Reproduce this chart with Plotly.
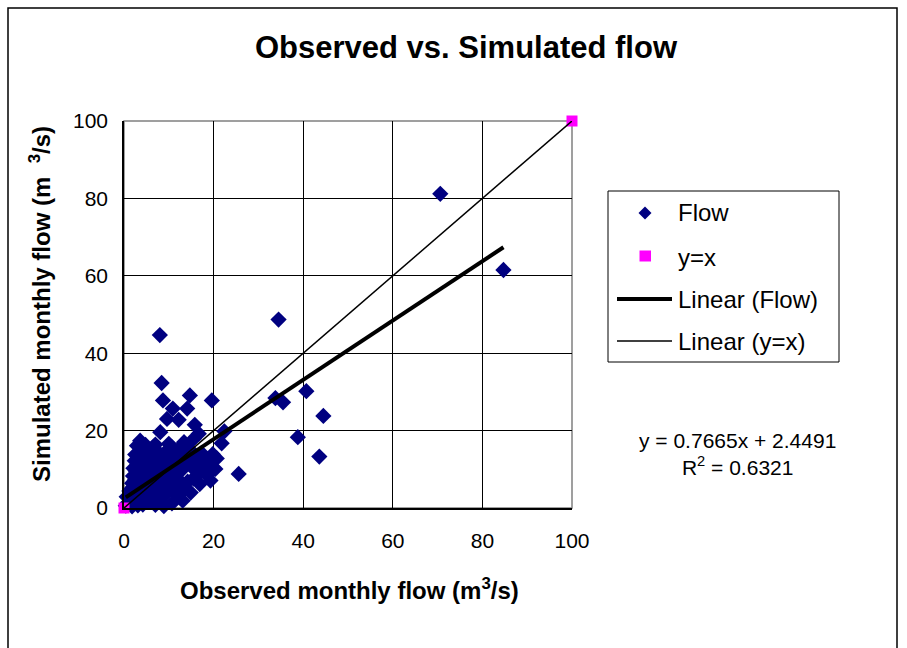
import plotly.graph_objects as go

# Observed vs. simulated monthly flows (m3/s)
observed = [
    84.7, 70.6, 34.5, 40.7, 44.5, 43.6, 38.8, 33.8, 35.5,
    8.0, 8.4, 8.7, 10.9, 14.7, 14.1, 19.6, 12.2, 9.6, 15.8, 8.1, 16.7, 15.6,
    3.6, 7.0, 10.0, 13.4, 22.4, 21.8, 20.7, 25.6,
    0.4, 0.6, 0.9, 1.2, 1.8, 2.0, 2.1, 2.4, 1.8, 1.9, 1.5,
    2.2, 2.4, 2.6, 2.5, 2.9, 3.1, 3.3, 3.5, 3.8, 3.7, 2.9, 3.9,
    4.2, 4.4, 4.6, 4.3, 4.9, 5.1, 5.3, 5.5, 5.7, 5.9, 4.8, 5.4,
    6.1, 6.3, 6.6, 6.8, 7.0, 7.2, 7.4, 7.6, 7.8, 6.4, 7.9,
    8.2, 8.4, 8.6, 8.8, 9.1, 9.3, 9.5, 9.7, 9.9, 8.9,
    10.2, 10.4, 10.7, 10.9, 11.2, 11.4, 11.6, 11.9, 10.6,
    12.1, 12.4, 12.6, 12.9, 13.1, 13.3, 13.6, 13.8, 12.8,
    14.2, 14.5, 14.9, 15.2, 15.5, 15.8, 14.6,
    16.3, 16.6, 16.9, 17.3, 17.7,
    18.2, 18.6, 19.1, 19.3, 19.8, 20.4,
]
simulated = [
    61.5, 81.2, 48.7, 30.2, 23.8, 13.3, 18.3, 28.4, 27.3,
    44.7, 32.3, 27.8, 25.7, 29.1, 25.7, 27.8, 22.8, 23.0, 21.5, 19.6, 19.2, 17.9,
    17.4, 16.4, 16.6, 17.0, 19.8, 16.7, 12.8, 8.8,
    0.6, 2.9, 1.4, 4.4, 6.4, 8.3, 10.3, 12.2, 0.4, 5.3, 3.3,
    1.9, 7.2, 9.6, 13.8, 3.8, 0.7, 11.4, 5.6, 15.1, 8.4, 16.1, 2.4,
    0.9, 6.8, 10.2, 12.9, 3.1, 14.6, 8.6, 1.6, 5.1, 11.7, 16.3, 13.3,
    2.6, 9.1, 6.3, 12.6, 0.8, 4.2, 14.7, 7.9, 10.6, 15.6, 2.0,
    5.4, 11.2, 1.3, 8.7, 13.8, 3.6, 6.9, 10.4, 15.2, 0.5,
    4.9, 12.1, 1.2, 8.2, 14.1, 6.1, 10.8, 3.4, 15.8,
    7.4, 12.7, 4.4, 9.8, 1.9, 4.6, 11.3, 14.3, 15.9,
    6.8, 12.2, 4.0, 10.5, 7.6, 13.6, 15.2,
    8.3, 11.6, 6.2, 14.2, 9.7,
    12.4, 8.4, 10.9, 7.1, 13.9, 10.1,
]

# Reference series y = x
ref_x = [0, 100]
ref_y = [0, 100]

# Least-squares fit of the Flow series
slope = 0.7665
intercept = 2.4491
r_squared = 0.6321

tick_vals = [0, 20, 40, 60, 80, 100]
tick_text = ["0", "20", "40", "60", "80", "100"]

FONT = "Liberation Sans, Arial, sans-serif"
W, H = 907, 648
L, R, T, B = 124, 335, 121, 140
PW = W - L - R
PH = H - T - B


def fx(p):
    """pixel column -> paper x"""
    return (p - L) / PW


def fy(p):
    """pixel row -> paper y"""
    return (H - B - p) / PH


fit_x = [min(observed), max(observed)]
fit_y = [slope * v + intercept for v in fit_x]

fig = go.Figure()
fig.add_trace(go.Scatter(
    x=observed, y=simulated, mode="markers", name="Flow",
    marker=dict(symbol="diamond", size=12.5, color="#000080", line=dict(width=0)),
    cliponaxis=False, showlegend=False,
))
fig.add_trace(go.Scatter(
    x=ref_x, y=ref_y, mode="markers", name="y=x",
    marker=dict(symbol="square", size=11, color="#FF00FF", line=dict(width=0)),
    cliponaxis=False, showlegend=False,
))
fig.add_trace(go.Scatter(
    x=fit_x, y=fit_y, mode="lines", name="Linear (Flow)",
    line=dict(color="black", width=4), showlegend=False,
))
fig.add_trace(go.Scatter(
    x=ref_x, y=ref_y, mode="lines", name="Linear (y=x)",
    line=dict(color="black", width=1.5), showlegend=False,
))

axis_common = dict(
    range=[0, 100], tickvals=tick_vals, ticktext=tick_text,
    showgrid=True, gridcolor="black", gridwidth=1, zeroline=False,
    showline=True, linecolor="black", linewidth=1.5, ticks="",
    tickfont=dict(family=FONT, size=21, color="black"), fixedrange=True,
)
fig.update_xaxes(**axis_common, ticklabelstandoff=13)
fig.update_yaxes(**axis_common, ticklabelstandoff=10)

shapes = [
    # outer chart frame
    dict(type="rect", xref="paper", yref="paper",
         x0=fx(8), x1=fx(897), y0=fy(700), y1=fy(8),
         line=dict(color="black", width=1.5), layer="below"),
    # plot area border
    dict(type="rect", xref="paper", yref="paper", x0=0, x1=1, y0=0, y1=1,
         line=dict(color="#808080", width=1.5), layer="between"),
    # legend box
    dict(type="rect", xref="paper", yref="paper",
         x0=fx(608), x1=fx(839), y0=fy(362), y1=fy(191),
         line=dict(color="black", width=1), fillcolor="white", layer="above"),
    # legend symbols
    dict(type="path", xref="paper", yref="paper",
         path=f"M {fx(638.5)},{fy(213)} L {fx(645)},{fy(206.5)} L {fx(651.5)},{fy(213)} "
              f"L {fx(645)},{fy(219.5)} Z",
         fillcolor="#000080", line=dict(width=0), layer="above"),
    dict(type="rect", xref="paper", yref="paper",
         x0=fx(639.5), x1=fx(651), y0=fy(261.5), y1=fy(250.5),
         fillcolor="#FF00FF", line=dict(width=0), layer="above"),
    dict(type="line", xref="paper", yref="paper",
         x0=fx(617), x1=fx(672), y0=fy(299), y1=fy(299),
         line=dict(color="black", width=4), layer="above"),
    dict(type="line", xref="paper", yref="paper",
         x0=fx(617), x1=fx(672), y0=fy(341), y1=fy(341),
         line=dict(color="black", width=1.5), layer="above"),
]

legend_labels = ["Flow", "y=x", "Linear (Flow)", "Linear (y=x)"]
legend_rows = [212, 257, 299, 341]

annotations = [
    dict(text=lbl, x=fx(676), y=fy(row), xref="paper", yref="paper",
         xanchor="left", yanchor="middle", showarrow=False,
         font=dict(family=FONT, size=24, color="black"))
    for lbl, row in zip(legend_labels, legend_rows)
]
annotations += [
    dict(text=f"y = {slope:.4f}x + {intercept:.4f}<br>R<sup>2</sup> = {r_squared:.4f}",
         x=fx(737), y=fy(454), xref="paper", yref="paper",
         xanchor="center", yanchor="middle", showarrow=False, align="center",
         font=dict(family=FONT, size=21, color="black")),
    dict(text="<b>Observed monthly flow (m<sup>3</sup>/s)</b>",
         x=fx(349), y=fy(589), xref="paper", yref="paper",
         xanchor="center", yanchor="middle", showarrow=False,
         font=dict(family=FONT, size=24, color="black")),
    dict(text="<b>Simulated monthly flow (m  <sup>3</sup>/s)</b>",
         x=fx(40), y=fy(304), xref="paper", yref="paper", textangle=-90,
         xanchor="center", yanchor="middle", showarrow=False,
         font=dict(family=FONT, size=24, color="black")),
]

fig.update_layout(
    width=W, height=H,
    margin=dict(l=L, r=R, t=T, b=B, pad=0),
    paper_bgcolor="white", plot_bgcolor="white",
    title=dict(text="<b>Observed vs. Simulated flow</b>", x=466 / W, y=1 - 47 / H,
               xref="container", yref="container", xanchor="center", yanchor="middle",
               font=dict(family=FONT, size=31, color="black")),
    showlegend=False,
    shapes=shapes, annotations=annotations,
    font=dict(family=FONT, color="black"),
)

fig.write_html("out.html")
